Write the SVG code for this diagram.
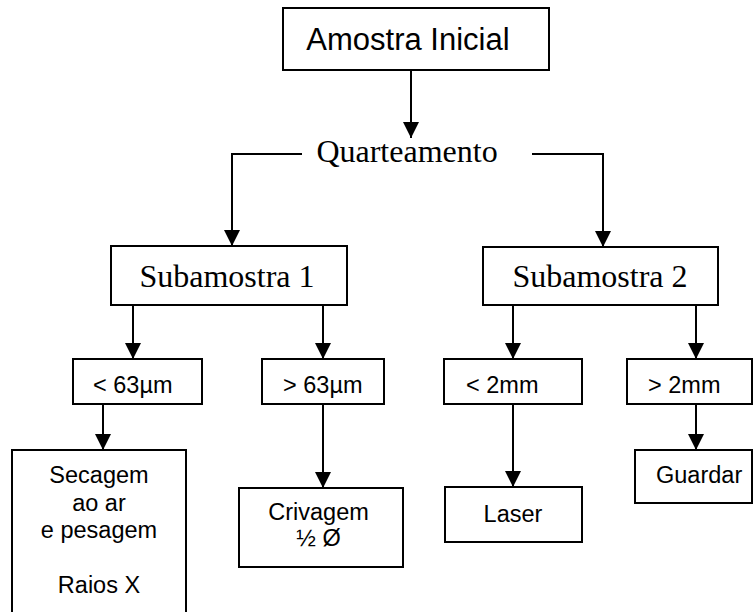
<svg xmlns="http://www.w3.org/2000/svg" width="753" height="612" viewBox="0 0 753 612">
<style>
.box{fill:#fff;stroke:#000;stroke-width:2}
.sans{font-family:"Liberation Sans",Arial,sans-serif;fill:#000}
.sm{font-size:23.5px}
.serif{font-family:"Liberation Serif","Times New Roman",serif;fill:#000;font-size:32px}
.c{text-anchor:middle}
.con{fill:none;stroke:#000;stroke-width:2}
</style>
<defs>
<marker id="ah" markerUnits="userSpaceOnUse" markerWidth="16" markerHeight="16" viewBox="0 0 14 14" refX="14" refY="7" orient="auto">
<path d="M0,0 L14,7 L0,14 Z" fill="#000"/>
</marker>
</defs>
<rect width="753" height="612" fill="#fff"/>
<g id="connectors">
<line class="con" x1="411" y1="70" x2="411" y2="138" marker-end="url(#ah)"/>
<polyline class="con" points="302,154 232,154 232,246" marker-end="url(#ah)"/>
<polyline class="con" points="532,154 603,154 603,247" marker-end="url(#ah)"/>
<line class="con" x1="133" y1="305" x2="133" y2="359" marker-end="url(#ah)"/>
<line class="con" x1="323" y1="305" x2="323" y2="359" marker-end="url(#ah)"/>
<line class="con" x1="513" y1="305" x2="513" y2="359" marker-end="url(#ah)"/>
<line class="con" x1="696" y1="305" x2="696" y2="359" marker-end="url(#ah)"/>
<line class="con" x1="103" y1="404" x2="103" y2="450" marker-end="url(#ah)"/>
<line class="con" x1="323" y1="404" x2="323" y2="488" marker-end="url(#ah)"/>
<line class="con" x1="513" y1="404" x2="513" y2="487" marker-end="url(#ah)"/>
<line class="con" x1="696" y1="404" x2="696" y2="450" marker-end="url(#ah)"/>
</g>
<g id="amostra">
<rect class="box" x="283" y="8" width="266" height="62"/>
<text class="sans c" x="408" y="50" font-size="31">Amostra Inicial</text>
</g>
<g id="quarteamento">
<text class="serif c" x="407" y="162">Quarteamento</text>
</g>
<g id="sub1">
<rect class="box" x="111" y="246" width="236" height="59"/>
<text class="serif c" x="227" y="287">Subamostra 1</text>
</g>
<g id="sub2">
<rect class="box" x="483" y="247" width="235" height="58"/>
<text class="serif c" x="600" y="287">Subamostra 2</text>
</g>
<g id="lt63">
<rect class="box" x="73" y="359" width="129" height="45"/>
<text class="sans sm" x="93" y="393">&lt; 63µm</text>
</g>
<g id="gt63">
<rect class="box" x="262" y="359" width="122" height="45"/>
<text class="sans sm" x="283" y="393">&gt; 63µm</text>
</g>
<g id="lt2">
<rect class="box" x="444" y="359" width="138" height="45"/>
<text class="sans sm" x="466" y="393">&lt; 2mm</text>
</g>
<g id="gt2">
<rect class="box" x="627" y="359" width="125" height="45"/>
<text class="sans sm" x="648" y="393">&gt; 2mm</text>
</g>
<g id="secagem">
<rect class="box" x="12" y="450" width="174" height="170"/>
<text class="sans sm c" x="99" y="483">Secagem</text>
<text class="sans sm c" x="99" y="510.5">ao ar</text>
<text class="sans sm c" x="99" y="538">e pesagem</text>
<text class="sans sm c" x="99" y="593">Raios X</text>
</g>
<g id="crivagem">
<rect class="box" x="239" y="488" width="164" height="79"/>
<text class="sans sm c" x="318.5" y="520">Crivagem</text>
<text class="sans sm c" x="318.5" y="546">½ Ø</text>
</g>
<g id="laser">
<rect class="box" x="445" y="487" width="137" height="55"/>
<text class="sans sm c" x="513" y="522">Laser</text>
</g>
<g id="guardar">
<rect class="box" x="635" y="450" width="117" height="53"/>
<text class="sans sm" x="656" y="483">Guardar</text>
</g>
</svg>
